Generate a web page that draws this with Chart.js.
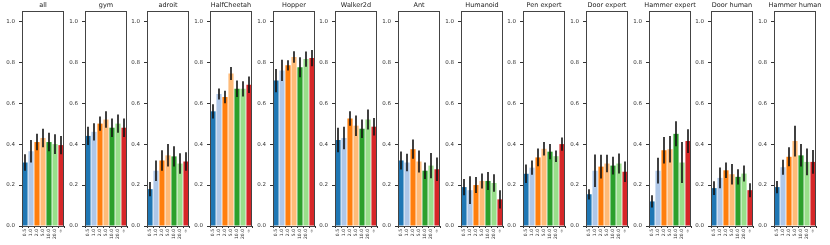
<!DOCTYPE html>
<html>
<head>
<meta charset="utf-8">
<script src="https://cdn.jsdelivr.net/npm/chart.js@4.4.0/dist/chart.umd.min.js"></script>
<style>
  body { margin: 0; background: #fff; }
  #wrap { position: relative; width: 830px; height: 245px; overflow: hidden; }
  .panel { position: absolute; top: 0; width: 85px; height: 245px; }
</style>
</head>
<body>
<div id="wrap"></div>
<script>
  // x categories (temperature / ratio setting)
  const ratios = ["0.5", "1.0", "2.0", "5.0", "10.0", "20.0", "\u221e"];
  const yTicks = [0, 0.2, 0.4, 0.6, 0.8, 1.0];
  const barColors = ["#1f77b4", "#aec7e8", "#ff7f0e", "#ffbb78", "#2ca02c", "#98df8a", "#d62728"];

  // mean normalized score and error half-width, one pair per panel
  const meanAll = [0.31, 0.365, 0.41, 0.43, 0.41, 0.40, 0.395];
  const errAll = [0.04, 0.055, 0.04, 0.045, 0.045, 0.048, 0.045];
  const meanGym = [0.44, 0.46, 0.50, 0.52, 0.48, 0.50, 0.48];
  const errGym = [0.045, 0.042, 0.035, 0.04, 0.045, 0.045, 0.045];
  const meanAdroit = [0.18, 0.27, 0.32, 0.345, 0.34, 0.305, 0.315];
  const errAdroit = [0.035, 0.05, 0.05, 0.055, 0.05, 0.05, 0.045];
  const meanHalfCheetah = [0.56, 0.645, 0.63, 0.745, 0.67, 0.67, 0.69];
  const errHalfCheetah = [0.035, 0.027, 0.03, 0.032, 0.04, 0.037, 0.04];
  const meanHopper = [0.71, 0.76, 0.785, 0.825, 0.775, 0.815, 0.82];
  const errHopper = [0.057, 0.052, 0.025, 0.028, 0.049, 0.037, 0.04];
  const meanWalker = [0.42, 0.43, 0.525, 0.49, 0.475, 0.52, 0.485];
  const errWalker = [0.06, 0.055, 0.035, 0.05, 0.045, 0.049, 0.043];
  const meanAnt = [0.32, 0.31, 0.375, 0.315, 0.27, 0.295, 0.277];
  const errAnt = [0.044, 0.043, 0.047, 0.054, 0.04, 0.062, 0.057];
  const meanHumanoid = [0.19, 0.175, 0.20, 0.22, 0.22, 0.21, 0.13];
  const errHumanoid = [0.04, 0.068, 0.039, 0.037, 0.044, 0.043, 0.045];
  const meanPenExpert = [0.255, 0.285, 0.335, 0.377, 0.363, 0.341, 0.40];
  const errPenExpert = [0.045, 0.035, 0.043, 0.033, 0.037, 0.028, 0.032];
  const meanDoorExpert = [0.155, 0.27, 0.29, 0.305, 0.295, 0.305, 0.265];
  const errDoorExpert = [0.025, 0.079, 0.058, 0.043, 0.043, 0.049, 0.05];
  const meanHammerExpert = [0.12, 0.27, 0.37, 0.375, 0.45, 0.31, 0.415];
  const errHammerExpert = [0.03, 0.063, 0.065, 0.065, 0.061, 0.1, 0.058];
  const meanDoorHuman = [0.185, 0.235, 0.272, 0.253, 0.24, 0.256, 0.175];
  const errDoorHuman = [0.034, 0.051, 0.038, 0.05, 0.037, 0.039, 0.034];
  const meanHammerHuman = [0.19, 0.287, 0.338, 0.415, 0.345, 0.313, 0.313];
  const errHammerHuman = [0.03, 0.037, 0.046, 0.075, 0.055, 0.065, 0.058];

  const panels = [
    ["all", meanAll, errAll],
    ["gym", meanGym, errGym],
    ["adroit", meanAdroit, errAdroit],
    ["HalfCheetah", meanHalfCheetah, errHalfCheetah],
    ["Hopper", meanHopper, errHopper],
    ["Walker2d", meanWalker, errWalker],
    ["Ant", meanAnt, errAnt],
    ["Humanoid", meanHumanoid, errHumanoid],
    ["Pen expert", meanPenExpert, errPenExpert],
    ["Door expert", meanDoorExpert, errDoorExpert],
    ["Hammer expert", meanHammerExpert, errHammerExpert],
    ["Door human", meanDoorHuman, errDoorHuman],
    ["Hammer human", meanHammerHuman, errHammerHuman],
  ];

  const FONT = "'DejaVu Sans', sans-serif";

  // vertical error bars, no caps
  const errorBars = {
    id: "errorBars",
    afterDatasetsDraw(chart) {
      const ctx = chart.ctx;
      const y = chart.scales.y;
      const ds = chart.data.datasets[0];
      ctx.save();
      ctx.strokeStyle = "#111";
      ctx.lineWidth = 1.6;
      chart.getDatasetMeta(0).data.forEach((bar, i) => {
        const m = ds.data[i], e = ds.errors[i];
        ctx.beginPath();
        ctx.moveTo(bar.x, y.getPixelForValue(m - e));
        ctx.lineTo(bar.x, y.getPixelForValue(m + e));
        ctx.stroke();
      });
      ctx.restore();
    },
  };

  // box around the axes + panel title
  const frame = {
    id: "frame",
    afterDraw(chart, args, opts) {
      const ctx = chart.ctx;
      const a = chart.chartArea;
      ctx.save();
      ctx.strokeStyle = "#444";
      ctx.lineWidth = 1;
      ctx.strokeRect(Math.round(a.left) + 0.5, Math.round(a.top) + 0.5,
        Math.round(a.right - a.left) - 1, Math.round(a.bottom - a.top));
      ctx.fillStyle = "#222";
      ctx.font = "6.5px " + FONT;
      ctx.textAlign = "center";
      ctx.textBaseline = "bottom";
      ctx.fillText(opts.text, (a.left + a.right) / 2, a.top - 2);
      ctx.restore();
    },
  };

  const wrap = document.getElementById("wrap");
  panels.forEach(([title, mean, err], i) => {
    const plotLeft = 22 + i * 62.67;
    const div = document.createElement("div");
    div.className = "panel";
    div.style.left = (plotLeft - 22) + "px";
    const canvas = document.createElement("canvas");
    div.appendChild(canvas);
    wrap.appendChild(div);

    new Chart(canvas.getContext("2d"), {
      type: "bar",
      data: {
        labels: ratios,
        datasets: [
          {
            data: mean,
            errors: err,
            backgroundColor: barColors,
            borderWidth: 0,
            categoryPercentage: 1.0,
            barPercentage: 0.86,
          },
        ],
      },
      options: {
        responsive: true,
        maintainAspectRatio: false,
        animation: false,
        layout: { padding: { top: 11, right: 21, left: 0, bottom: 0 } },
        scales: {
          x: {
            afterFit: (s) => { s.height = 19; },
            grid: { drawOnChartArea: false, drawTicks: true, tickLength: 2, color: "#333" },
            border: { display: false },
            ticks: {
              minRotation: 90,
              maxRotation: 90,
              autoSkip: false,
              padding: 1,
              color: "#333",
              font: { family: FONT, size: 4.5 },
            },
          },
          y: {
            min: 0,
            max: 1.05,
            afterFit: (s) => { s.width = 22; },
            afterBuildTicks: (s) => { s.ticks = yTicks.map((v) => ({ value: v })); },
            grid: { drawOnChartArea: false, drawTicks: true, tickLength: 3, color: "#333" },
            border: { display: false },
            ticks: {
              padding: 4,
              color: "#333",
              font: { family: FONT, size: 5.5 },
              callback: (v) => v.toFixed(1),
            },
          },
        },
        plugins: {
          legend: { display: false },
          tooltip: { enabled: false },
          frame: { text: title },
        },
      },
      plugins: [errorBars, frame],
    });
  });
</script>
</body>
</html>
